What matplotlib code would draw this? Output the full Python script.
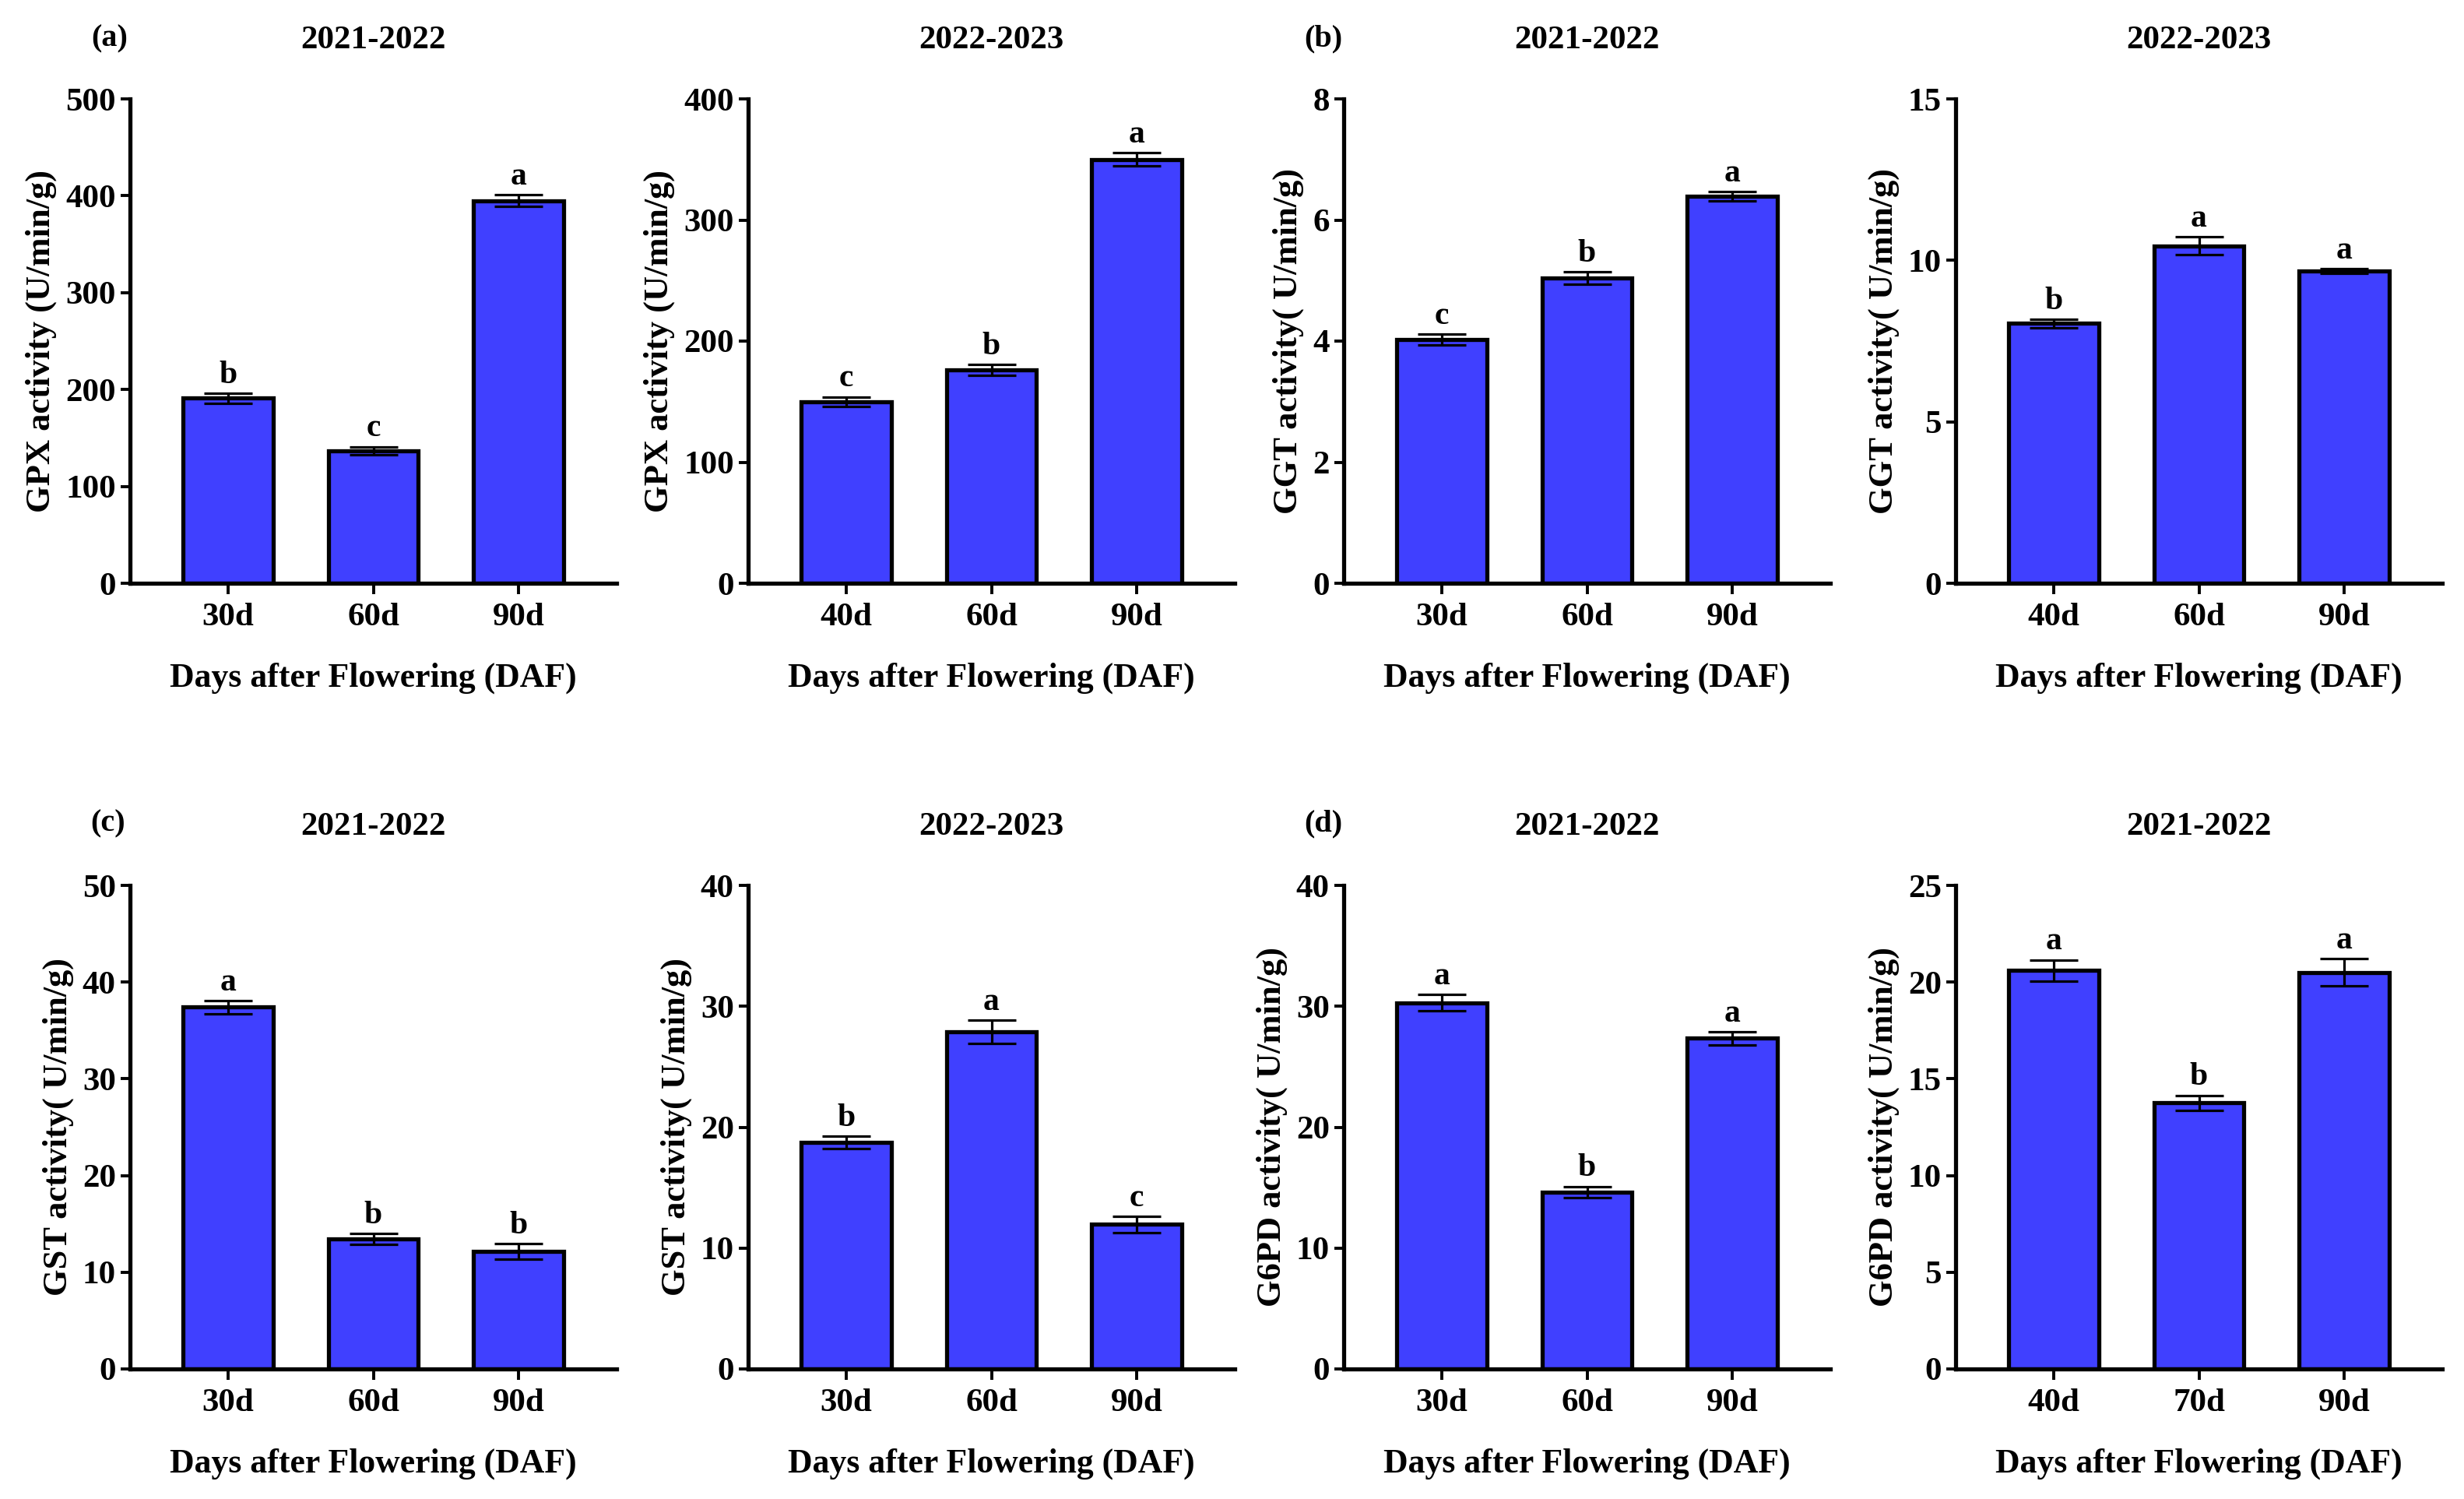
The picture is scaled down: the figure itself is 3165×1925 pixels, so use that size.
import numpy as np
import matplotlib
matplotlib.use('Agg')
import matplotlib.pyplot as plt

plt.rcParams['font.family'] = ['Liberation Serif', 'DejaVu Serif']
plt.rcParams['font.weight'] = 'bold'

## data (mean, error, letters)
gpx1_days = ['30d', '60d', '90d']
gpx1_mean = [191, 137, 395]
gpx1_err  = [5, 4, 6]
gpx1_sig  = ['b', 'c', 'a']

gpx2_days = ['40d', '60d', '90d']
gpx2_mean = [150, 176, 350]
gpx2_err  = [4, 4.5, 5.5]
gpx2_sig  = ['c', 'b', 'a']

ggt1_days = ['30d', '60d', '90d']
ggt1_mean = [4.03, 5.04, 6.39]
ggt1_err  = [0.09, 0.10, 0.08]
ggt1_sig  = ['c', 'b', 'a']

ggt2_days = ['40d', '60d', '90d']
ggt2_mean = [8.05, 10.45, 9.67]
ggt2_err  = [0.13, 0.27, 0.08]
ggt2_sig  = ['b', 'a', 'a']

gst1_days = ['30d', '60d', '90d']
gst1_mean = [37.4, 13.45, 12.15]
gst1_err  = [0.7, 0.55, 0.8]
gst1_sig  = ['a', 'b', 'b']

gst2_days = ['30d', '60d', '90d']
gst2_mean = [18.75, 27.9, 11.95]
gst2_err  = [0.5, 0.95, 0.65]
gst2_sig  = ['b', 'a', 'c']

g6pd1_days = ['30d', '60d', '90d']
g6pd1_mean = [30.3, 14.65, 27.35]
g6pd1_err  = [0.7, 0.45, 0.55]
g6pd1_sig  = ['a', 'b', 'a']

g6pd2_days = ['40d', '70d', '90d']
g6pd2_mean = [20.6, 13.75, 20.5]
g6pd2_err  = [0.55, 0.4, 0.7]
g6pd2_sig  = ['a', 'b', 'a']

ylab_gpx  = 'GPX activity (U/min/g)'
ylab_ggt  = 'GGT activity( U/min/g)'
ylab_gst  = 'GST activity( U/min/g)'
ylab_g6pd = 'G6PD activity( U/min/g)'

panels = [
  (gpx1_days, gpx1_mean, gpx1_err, gpx1_sig, '2021-2022', ylab_gpx, 500, 100),
  (gpx2_days, gpx2_mean, gpx2_err, gpx2_sig, '2022-2023', ylab_gpx, 400, 100),
  (ggt1_days, ggt1_mean, ggt1_err, ggt1_sig, '2021-2022', ylab_ggt, 8, 2),
  (ggt2_days, ggt2_mean, ggt2_err, ggt2_sig, '2022-2023', ylab_ggt, 15, 5),
  (gst1_days, gst1_mean, gst1_err, gst1_sig, '2021-2022', ylab_gst, 50, 10),
  (gst2_days, gst2_mean, gst2_err, gst2_sig, '2022-2023', ylab_gst, 40, 10),
  (g6pd1_days, g6pd1_mean, g6pd1_err, g6pd1_sig, '2021-2022', ylab_g6pd, 40, 10),
  (g6pd2_days, g6pd2_mean, g6pd2_err, g6pd2_sig, '2021-2022', ylab_g6pd, 25, 5),
]

W, H = 3165, 1925
fig = plt.figure(figsize=(W/100, H/100), dpi=100)

lefts = [167, 961, 1726, 2512]    # pixels
axw   = 625
rows  = [(127, 749), (1137, 1758)] # top, bottom in pixels
barcol = '#4040ff'
lw = 3.8

for k, (days, mean, err, sig, title, ylab, ymax, ystep) in enumerate(panels):
  r = k // 4
  c = k % 4
  top, bot = rows[r]
  ax = fig.add_axes([lefts[c]/W, 1 - bot/H, axw/W, (bot - top)/H])
  x = np.arange(len(days))
  ax.bar(x, mean, width=0.62, color=barcol, edgecolor='black', linewidth=lw, zorder=2)
  ax.errorbar(x, mean, yerr=err, fmt='none', ecolor='black', elinewidth=2.3,
              capsize=22.5, capthick=2.3, zorder=3)
  for xi, m, e, s in zip(x, mean, err, sig):
    ax.annotate(s, (xi, m + e), xytext=(0, 3), textcoords='offset points',
                ha='center', va='bottom', fontsize=30, fontweight='bold')
  ax.set_xlim(-0.675, 2.675)
  ax.set_ylim(0, ymax)
  ax.set_yticks(np.arange(0, ymax + ystep/2, ystep))
  ax.set_xticks(x)
  ax.set_xticklabels(days)
  ax.spines['top'].set_visible(False)
  ax.spines['right'].set_visible(False)
  ax.spines['left'].set_linewidth(lw)
  ax.spines['bottom'].set_linewidth(lw)
  ax.tick_params(axis='y', length=8.6, width=2.8, pad=4.5, labelsize=31)
  ax.tick_params(axis='x', length=10, width=2.8, pad=8, labelsize=31)
  for t in ax.get_xticklabels() + ax.get_yticklabels():
    t.set_fontweight('bold')
  ax.set_title(title, fontsize=31, fontweight='bold', pad=47)
  ax.set_ylabel(ylab, fontsize=32, fontweight='bold', labelpad=8)
  ax.set_xlabel('Days after Flowering (DAF)', fontsize=31.5, fontweight='bold')
  ax.xaxis.set_label_coords(0.5, -102/(bot - top))

# panel letters
fig.text(141/W, 1 - 50/H, '(a)', ha='center', va='center', fontsize=29, fontweight='bold')
fig.text(1700/W, 1 - 50/H, '(b)', ha='center', va='center', fontsize=29, fontweight='bold')
fig.text(139/W, 1 - 1058/H, '(c)', ha='center', va='center', fontsize=29, fontweight='bold')
fig.text(1700/W, 1 - 1058/H, '(d)', ha='center', va='center', fontsize=29, fontweight='bold')

fig.savefig('out.png', dpi=100, facecolor='white')
